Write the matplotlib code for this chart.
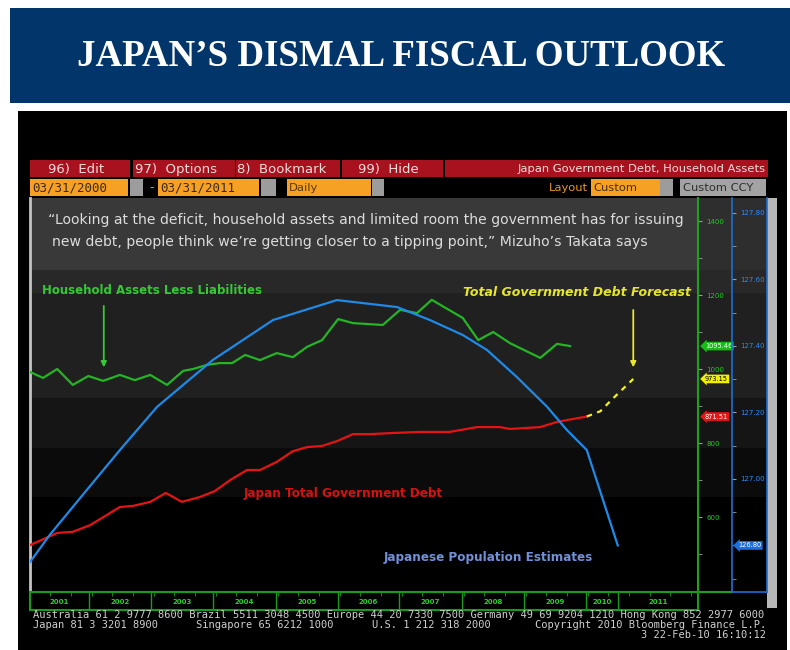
import matplotlib
matplotlib.use('Agg')
import matplotlib.pyplot as plt
import matplotlib.patches as mpatches
from matplotlib import font_manager
import numpy as np

W, H = 790, 650

# ---- values (t = years from the left edge of the plot) ----
pop_t = [0, 0.32, 0.85, 1.45, 2.05, 2.95, 3.92, 4.95, 5.92, 6.45, 6.98, 7.37, 7.85, 8.34, 8.66, 8.98, 9.48]
pop_val = [126.750, 126.832, 126.952, 127.087, 127.217, 127.358, 127.478, 127.538, 127.517,
           127.478, 127.433, 127.388, 127.307, 127.217, 127.147, 127.087, 126.80]

hh_t = [0, 0.21, 0.44, 0.69, 0.94, 1.18, 1.45, 1.69, 1.94, 2.21, 2.47, 2.63, 2.85, 3.06, 3.26, 3.47, 3.71,
        3.98, 4.24, 4.47, 4.71, 4.97, 5.21, 5.69, 5.97, 6.24, 6.48, 6.98, 7.23, 7.47, 7.74, 8.23, 8.50, 8.71]
hh_val = [992, 976, 1000, 957, 981, 968, 984, 970, 984, 957, 995, 1000, 1011, 1016, 1016, 1038, 1024,
          1043, 1032, 1060, 1078, 1135, 1124, 1119, 1160, 1151, 1187, 1138, 1078, 1100, 1070, 1030, 1068, 1062]

debt_t = [0, 0.44, 0.69, 0.97, 1.45, 1.66, 1.94, 2.19, 2.45, 2.74, 2.98, 3.23, 3.50, 3.71, 3.98, 4.24,
          4.47, 4.71, 4.95, 5.21, 5.48, 5.85, 6.29, 6.77, 7.21, 7.58, 7.74, 8.23, 8.50, 8.66, 8.98]
debt_val = [524, 557, 560, 578, 627, 630, 641, 665, 641, 654, 670, 700, 727, 727, 749, 778,
            789, 792, 805, 824, 824, 827, 830, 830, 843, 843, 838, 843, 857, 862, 871.51]

fc_t = [8.98, 9.2, 9.4, 9.73]
fc_val = [871.51, 886, 920, 973.15]

year_labels = ['2001', '2002', '2003', '2004', '2005', '2006', '2007', '2008', '2009', '2010', '2011']
year_edges = [0, 0.952, 1.952, 2.952, 3.968, 4.968, 5.952, 6.968, 7.968, 8.968, 9.484, 10.774]

green_ticks = [600, 800, 1000, 1200, 1400]
blue_ticks = [127.0, 127.2, 127.4, 127.6, 127.8]

T_MAX = 10.774
G_LIM = (397.3, 1462.2)
B_LIM = (126.660, 127.845)

# background bands (green-axis units, top -> bottom)
band_edges = [1268, 1205, 922, 787, 654, 519]
band_colors = ['#2e2e2e', '#282828', '#202020', '#151515', '#0b0b0b', '#000000']

available = {f.name for f in font_manager.fontManager.ttflist}
NARROW = 'Liberation Sans Narrow' if 'Liberation Sans Narrow' in available else None


def nfont(size):
    if NARROW:
        return dict(family=NARROW, fontsize=size)
    return dict(family='DejaVu Sans', fontsize=size * 0.75)


def fx(px):
    return px / W


def fy(py):
    return 1 - py / H


fig = plt.figure(figsize=(W / 100, H / 100), dpi=100)
fig.patch.set_facecolor('white')


def box(x0, y0, x1, y1, color, z=-2):
    fig.add_artist(mpatches.Rectangle((fx(x0), fy(y1)), (x1 - x0) / W, (y1 - y0) / H,
                                      transform=fig.transFigure, fc=color, ec='none', zorder=z))


# header + black screen
box(10, 8, 790, 103, '#02366a')
fig.text(fx(401), fy(57), 'JAPAN\u2019S DISMAL FISCAL OUTLOOK', ha='center', va='center',
         color='white', family='Liberation Serif', fontsize=26.6, fontweight='bold')
box(18, 111, 787, 650, 'black', z=-3)

# menu row
red = '#a8121f'
for x0, x1, tx, lab in [(30, 130, 48, '96)  Edit'), (133, 235, 135, '97)  Options'),
                        (236, 340, 237, '8)  Bookmark'), (342, 443, 358, '99)  Hide')]:
    box(x0, 160, x1, 177, red)
    fig.text(fx(tx), fy(169), lab, color='#f3dcdc', fontsize=9.5, va='center', ha='left',
             family='DejaVu Sans')
box(445, 160, 768, 177, red)
fig.text(fx(766), fy(169), 'Japan Government Debt, Household Assets', color='#f3dcdc',
         ha='right', va='center', **nfont(11))

# date / options row
orange = '#f6a124'
gray = '#9c9c9c'
box(30, 179, 128, 196, orange)
box(130, 179, 143, 196, gray)
fig.text(fx(152), fy(188), '-', color='#f6a124', ha='center', va='center', fontsize=9)
box(158, 179, 259, 196, orange)
box(261, 179, 276, 196, gray)
box(287, 179, 371, 196, orange)
box(372, 179, 384, 196, gray)
box(591, 179, 660, 196, orange)
box(660, 179, 673, 196, gray)
box(680, 179, 766, 196, '#a3a3a3')
for tx, lab in [(32, '03/31/2000'), (160, '03/31/2011')]:
    fig.text(fx(tx), fy(188), lab, color='#3a2a10', ha='left', va='center',
             family='DejaVu Sans Mono', fontsize=9)
fig.text(fx(289), fy(188), 'Daily', color='#5a3a10', ha='left', va='center', **nfont(11))
fig.text(fx(588), fy(188), 'Layout', color='#e8961e', ha='right', va='center', **nfont(11))
fig.text(fx(593), fy(188), 'Custom', color='#4a2e08', ha='left', va='center', **nfont(11))
fig.text(fx(683), fy(188), 'Custom CCY', color='#303030', ha='left', va='center', **nfont(11))

# scrollbar
box(767, 198, 777, 608, '#b7b7b7', z=-1)

# ---- main plot ----
ax = fig.add_axes([fx(30), fy(592), fx(698) - fx(30), (592 - 198) / H])
ax.set_xlim(0, T_MAX)
ax.set_ylim(*G_LIM)
ax.set_facecolor('black')
tops = [G_LIM[1]] + band_edges
bots = band_edges + [G_LIM[0]]
for top, bot, c in zip(tops, bots, band_colors + ['#000000']):
    ax.axhspan(bot, top, color=c, lw=0, zorder=0)
ax.axhspan(band_edges[0], G_LIM[1], color='#393939', lw=0, zorder=0)
for s in ['top', 'right', 'bottom']:
    ax.spines[s].set_visible(False)
ax.spines['left'].set_color('#c4c4c4')
ax.spines['left'].set_linewidth(2)
ax.set_xticks([])
ax.set_yticks([])

ax.plot(hh_t, hh_val, color='#24b524', lw=1.6, zorder=3)
ax.plot(debt_t, debt_val, color='#e41414', lw=1.6, zorder=3)
ax.plot(fc_t, fc_val, color='#f2f21e', lw=1.6, ls=(0, (2.5, 2.5)), zorder=3)

ax_b = ax.twinx()
ax_b.set_ylim(*B_LIM)
ax_b.axis('off')
ax_b.plot(pop_t, pop_val, color='#1e8ae8', lw=1.6, zorder=3)

ax.annotate('', xy=(1.19, 997), xytext=(1.19, 1178),
            arrowprops=dict(arrowstyle='-|>', color='#35c935', lw=1.3, mutation_scale=8))
ax.annotate('', xy=(9.73, 997), xytext=(9.73, 1167),
            arrowprops=dict(arrowstyle='-|>', color='#e6e62e', lw=1.3, mutation_scale=8))

# quote + series labels
quote1 = '\u201cLooking at the deficit, household assets and limited room the government has for issuing'
quote2 = 'new debt, people think we\u2019re getting closer to a tipping point,\u201d Mizuho\u2019s Takata says'
fig.text(fx(48), fy(220), quote1, color='#dcdcdc', ha='left', va='center', **nfont(13.4))
fig.text(fx(52), fy(242), quote2, color='#dcdcdc', ha='left', va='center', **nfont(13.4))

fig.text(fx(42), fy(291), 'Household Assets Less Liabilities', color='#35c935', fontweight='bold',
         ha='left', va='center', **nfont(11.3))
fig.text(fx(463), fy(293), 'Total Government Debt Forecast', color='#e6e62e', fontweight='bold',
         style='italic', ha='left', va='center', **nfont(12))
fig.text(fx(244), fy(493), 'Japan Total Government Debt', color='#d41212', fontweight='bold',
         ha='left', va='center', **nfont(11.5))
fig.text(fx(384), fy(558), 'Japanese Population Estimates', color='#7090d8', fontweight='bold',
         ha='left', va='center', **nfont(11.5))

# ---- right-hand axes panel ----
ax_r = fig.add_axes([fx(698), fy(592), fx(767) - fx(698), (592 - 198) / H])
ax_r.set_xlim(0, 1)
ax_r.set_ylim(*G_LIM)
for top, bot, c in zip(tops, bots, band_colors + ['#000000']):
    ax_r.axhspan(bot, top, color=c, lw=0, zorder=0)
ax_r.axhspan(band_edges[0], G_LIM[1], color='#2e2e2e', lw=0, zorder=0)
ax_r.spines['left'].set_color('#1fa01f')
ax_r.spines['left'].set_linewidth(1.5)
ax_r.spines['right'].set_color('#1a6fd6')
ax_r.spines['right'].set_linewidth(1.2)
ax_r.spines['top'].set_visible(False)
ax_r.spines['bottom'].set_visible(False)
ax_r.plot([0, 34 / 69], [0, 0], color='#1fa01f', lw=1.5, transform=ax_r.transAxes, clip_on=False)
ax_r.plot([34 / 69, 1], [0, 0], color='#1a6fd6', lw=1.2, transform=ax_r.transAxes, clip_on=False)
ax_r.set_xticks([])
ax_r.set_yticks(green_ticks)
ax_r.set_yticks(np.arange(500, 1401, 100), minor=True)
ax_r.tick_params(axis='y', which='both', direction='in', length=3, color='#9a9a9a',
                 labelcolor='#22cc22', labelsize=5, pad=-6)
for lab in ax_r.get_yticklabels():
    lab.set_horizontalalignment('left')

ax_rb = ax_r.twinx()
ax_rb.set_ylim(*B_LIM)
for s in ['top', 'bottom', 'right']:
    ax_rb.spines[s].set_visible(False)
ax_rb.spines['left'].set_visible(True)
ax_rb.spines['left'].set_position(('axes', 34 / 69))
ax_rb.spines['left'].set_color('#1a6fd6')
ax_rb.spines['left'].set_linewidth(1.2)
ax_rb.yaxis.tick_left()
ax_rb.set_yticks(blue_ticks)
ax_rb.set_yticks(np.arange(126.7, 127.81, 0.1), minor=True)
ax_rb.tick_params(axis='y', which='both', direction='in', length=3, color='#9a9a9a',
                  labelcolor='#2a8cff', labelsize=5, pad=-6)
ax_rb.set_yticklabels([f'{v:.2f}' for v in blue_ticks])
for lab in ax_rb.get_yticklabels():
    lab.set_horizontalalignment('left')

# last-value tags
tr = ax_r.get_yaxis_transform()
ax_r.text(0.1, hh_val[-1], '1095.46', transform=tr, fontsize=4.8, color='white', ha='left', va='center',
          bbox=dict(boxstyle='larrow,pad=0.2', fc='#19b919', ec='none'), zorder=5)
ax_r.text(0.1, fc_val[-1], f'{fc_val[-1]:.2f}', transform=tr, fontsize=4.8, color='black', ha='left',
          va='center', bbox=dict(boxstyle='larrow,pad=0.2', fc='#f0f000', ec='none'), zorder=5)
ax_r.text(0.1, debt_val[-1], f'{debt_val[-1]:.2f}', transform=tr, fontsize=4.8, color='white', ha='left',
          va='center', bbox=dict(boxstyle='larrow,pad=0.2', fc='#e81515', ec='none'), zorder=5)
ax_rb.text(0.58, pop_val[-1], f'{pop_val[-1]:.2f}', transform=ax_rb.get_yaxis_transform(), fontsize=4.8,
           color='white', ha='left', va='center',
           bbox=dict(boxstyle='larrow,pad=0.2', fc='#1d6fe0', ec='none'), zorder=5)

# ---- date strip ----
ax_d = fig.add_axes([fx(30), fy(610), fx(698) - fx(30), 18 / H])
ax_d.set_facecolor('black')
ax_d.set_xlim(0, T_MAX)
ax_d.set_ylim(0, 1)
for s in ax_d.spines.values():
    s.set_color('#1a9a1a')
    s.set_linewidth(1.5)
for e in year_edges[1:-1]:
    ax_d.axvline(e, color='#1a9a1a', lw=1)
for i, lab in enumerate(year_labels):
    ax_d.text((year_edges[i] + year_edges[i + 1]) / 2, 0.42, lab, color='#2ecc2e', fontsize=5,
              fontweight='bold', ha='center', va='center')
ax_d.set_yticks([])
ax_d.set_xticks([])
ax_d.set_xticks(np.arange(0.33, T_MAX, 1 / 3), minor=True)
ax_d.tick_params(axis='x', which='minor', direction='in', top=True, bottom=False, length=3,
                 color='#1a9a1a', labelbottom=False)

# ---- footer ----
foot = dict(color='#d0d0d0', family='DejaVu Sans Mono', fontsize=7.45, va='center')
fig.text(fx(33), fy(615), 'Australia 61 2 9777 8600 Brazil 5511 3048 4500 Europe 44 20 7330 7500 '
         'Germany 49 69 9204 1210 Hong Kong 852 2977 6000', ha='left', **foot)
fig.text(fx(33), fy(625), 'Japan 81 3 3201 8900', ha='left', **foot)
fig.text(fx(196), fy(625), 'Singapore 65 6212 1000', ha='left', **foot)
fig.text(fx(372), fy(625), 'U.S. 1 212 318 2000', ha='left', **foot)
fig.text(fx(535), fy(625), 'Copyright 2010 Bloomberg Finance L.P.', ha='left', **foot)
fig.text(fx(766), fy(635), '3 22-Feb-10 16:10:12', ha='right', **foot)

plt.savefig('out.png', dpi=100, facecolor=fig.get_facecolor())
